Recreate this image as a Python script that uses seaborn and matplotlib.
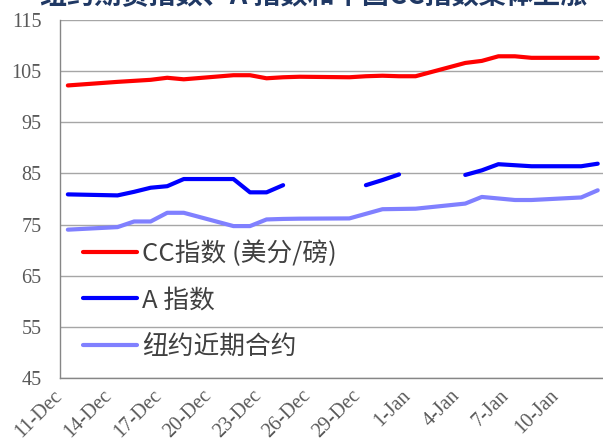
import numpy as np
import pandas as pd
import matplotlib
matplotlib.use("Agg")
import matplotlib.pyplot as plt
import matplotlib.transforms as mtransforms
import seaborn as sns

# trading days, Dec 2020 - Jan 2021
dates = ["2020-12-11",
         "2020-12-14", "2020-12-15", "2020-12-16", "2020-12-17", "2020-12-18",
         "2020-12-21", "2020-12-22", "2020-12-23", "2020-12-24", "2020-12-25",
         "2020-12-28", "2020-12-29", "2020-12-30", "2020-12-31", "2021-01-01",
         "2021-01-04", "2021-01-05", "2021-01-06", "2021-01-07", "2021-01-08",
         "2021-01-11", "2021-01-12"]

cc_index = [102.2,
            102.9, 103.1, 103.3, 103.7, 103.4,
            104.2, 104.2, 103.6, 103.8, 103.9,
            103.8, 104.0, 104.1, 104.0, 104.0,
            106.6, 107.0, 107.9, 107.9, 107.6,
            107.6, 107.6]

# A index has no quotes over the holidays -> gaps in the line
a_index = [80.9,
           80.7, 81.4, 82.2, 82.5, 83.9,
           83.9, 81.3, 81.3, 82.7, np.nan,
           np.nan, 82.7, 83.7, 84.8, np.nan,
           84.7, 85.6, 86.8, 86.6, 86.4,
           86.4, 86.9]

ny_nearby = [74.0,
             74.5, 75.6, 75.6, 77.3, 77.3,
             74.7, 74.7, 76.0, 76.1, 76.15,
             76.2, 77.1, 78.0, 78.05, 78.1,
             79.1, 80.4, 80.1, 79.8, 79.8,
             80.3, 81.7]

labels = ["CC指数 (美分/磅)", "A 指数", "纽约近期合约"]
colors = ["#FF0000", "#0000FF", "#8080FF"]
title = "纽约期货指数、A 指数和中国CC指数集体上涨"

sns.set_style("white")
plt.rcParams["font.serif"] = ["Liberation Serif", "DejaVu Serif"]
plt.rcParams["font.family"] = ["serif"]
plt.rcParams["font.size"] = 14.5
cjk = ["Noto Sans CJK SC", "DejaVu Sans"]

df = pd.DataFrame({"date": pd.to_datetime(dates), "CC": cc_index,
                   "A": a_index, "NY": ny_nearby})
df["day"] = (df["date"] - df["date"].iloc[0]).dt.days
df["a_seg"] = df["A"].isna().cumsum()

fig = plt.figure(figsize=(6.03, 4.45), dpi=100)
ax = fig.add_axes([0.0988, 0.1506, 0.9062, 0.8045])

lw = 3
sns.lineplot(data=df, x="day", y="CC", color=colors[0], lw=lw, ax=ax, label=labels[0])
a_parts = df.dropna(subset=["A"]).groupby("a_seg")
for i, (_, seg) in enumerate(a_parts):
    sns.lineplot(data=seg, x="day", y="A", color=colors[1], lw=lw, ax=ax,
                 label=labels[1] if i == 0 else None)
sns.lineplot(data=df, x="day", y="NY", color=colors[2], lw=lw, ax=ax, label=labels[2])

# axes
last = df["day"].max()
ax.set_xlim(-0.5, last + 0.5)
ax.set_ylim(45, 115)
ax.set_yticks(np.arange(45, 116, 10))
tick_days = np.arange(0, last + 1, 3)
tick_dates = df["date"].iloc[0] + pd.to_timedelta(tick_days, unit="D")
ax.set_xticks(tick_days - 0.5)
ax.set_xticklabels([f"{d.day}-{d.strftime('%b')}" for d in tick_dates],
                   rotation=45, ha="right", va="center", rotation_mode="anchor")
shift = mtransforms.ScaledTranslation(9 / 100, -6 / 100, fig.dpi_scale_trans)
for t in ax.get_xticklabels():
    t.set_transform(t.get_transform() + shift)
ax.set_xlabel("")
ax.set_ylabel("")

ax.yaxis.grid(True, color="#A6A6A6", lw=1.0)
ax.set_axisbelow(True)
for s in ["top", "right"]:
    ax.spines[s].set_visible(False)
for s in ["left", "bottom"]:
    ax.spines[s].set_color("#868686")
    ax.spines[s].set_linewidth(1.0)
ax.tick_params(axis="both", direction="out", length=5, width=1, color="#868686",
               labelcolor="#595959", labelsize=14.5)
ax.tick_params(axis="y", pad=8)
ax.tick_params(axis="x", pad=6)

leg = ax.legend(loc="upper left", bbox_to_anchor=(0.043, 0.385), frameon=False,
                prop={"family": cjk, "size": 18.5},
                handlelength=2.1, handletextpad=0.2, labelspacing=0.8,
                borderaxespad=0, borderpad=0)
for t in leg.get_texts():
    t.set_color("#404040")

# title is cut off at the top of the picture
fig.text(0.066, 0.991, title, fontsize=19.5, family=cjk,
         weight="bold", color="#1F3864", va="baseline")

fig.savefig("out.png", dpi=100)
